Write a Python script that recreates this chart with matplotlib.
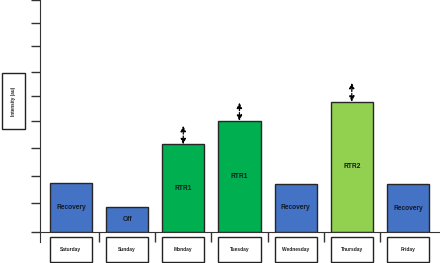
import matplotlib
matplotlib.use("Agg")
import matplotlib.pyplot as plt
from matplotlib.patches import Rectangle
from matplotlib.transforms import blended_transform_factory

plt.rcParams['font.family'] = ['Liberation Sans', 'DejaVu Sans']

# data
days = ["Saturday", "Sunday", "Monday", "Tuesday", "Wednesday", "Thursday", "Friday"]
values = [1.90, 0.97, 3.40, 4.31, 1.87, 5.05, 1.86]
bar_labels = ["Recovery", "Off", "RTR1", "RTR1", "Recovery", "RTR2", "Recovery"]
bar_colors = ["#4472C4", "#4472C4", "#00B050", "#00B050", "#4472C4", "#92D050", "#4472C4"]
arrow_days = [2, 3, 5]
arrow_tops = [4.12, 5.02, 5.79]
ytick_pos = [0, 1.125, 2.17, 3.26, 4.31, 5.28, 6.21, 7.21, 8.11, 9]
ylabel = "Intensity (au)"

fig = plt.figure(figsize=(4.4, 2.63), dpi=100)
ax = fig.add_axes([40 / 440, 31 / 263, 400 / 440, 232 / 263])

x = list(range(len(days)))
bw = 0.75
ax.bar(x, values, width=bw, color=bar_colors, edgecolor="#262626", linewidth=1.0, zorder=2)

for i, (v, lab) in enumerate(zip(values, bar_labels)):
    ax.text(i, v / 2, lab, ha="center", va="center", fontsize=4.8,
            fontweight="bold", color="#141a2a", zorder=3)

# dashed double arrows above the training days
for i, top in zip(arrow_days, arrow_tops):
    ax.annotate("", xy=(i, top), xytext=(i, values[i]),
                arrowprops=dict(arrowstyle="<|-|>,head_length=0.32,head_width=0.15",
                                linestyle=(0, (2, 1.5)), lw=0.9, color="black",
                                shrinkA=0, shrinkB=0, mutation_scale=10))

ax.set_xlim(-0.55, 6.57)
ax.set_ylim(0, 9)

for s in ["top", "right"]:
    ax.spines[s].set_visible(False)
ax.spines["left"].set_bounds(-0.39, 9)
ax.spines["left"].set_color("#333333")
ax.spines["bottom"].set_color("#333333")

ax.set_yticks(ytick_pos)
ax.set_yticklabels([])
ax.tick_params(axis="y", direction="out", length=6.5, width=1, color="#333333")
ax.set_xticks(x)
ax.set_xticklabels([])
ax.tick_params(axis="x", which="major", length=0)
ax.set_xticks([i + 0.5 for i in range(len(days) - 1)], minor=True)
ax.tick_params(axis="x", which="minor", direction="out", length=7.2, width=1, color="#333333")

# day label boxes under the axis
trans = blended_transform_factory(ax.transData, fig.transFigure)
box_bottom, box_top = 1 / 263, 26 / 263
for i, d in enumerate(days):
    ax.add_patch(Rectangle((i - bw / 2, box_bottom), bw, box_top - box_bottom,
                           transform=trans, facecolor="white", edgecolor="#222222",
                           linewidth=1, clip_on=False))
    ax.text(i, (box_bottom + box_top) / 2, d, transform=trans, ha="center",
            va="center", fontsize=3.5, fontweight="bold", color="#222222")

# y label in its own box
fig.patches.append(Rectangle((1.5 / 440, 134 / 263), 23.5 / 440, 56 / 263,
                             transform=fig.transFigure, facecolor="white",
                             edgecolor="#222222", linewidth=1))
fig.text(13 / 440, 162 / 263, ylabel, rotation=90, ha="center", va="center",
         fontsize=3.3, fontweight="bold", color="#222222")

fig.savefig("out.png", dpi=100)
